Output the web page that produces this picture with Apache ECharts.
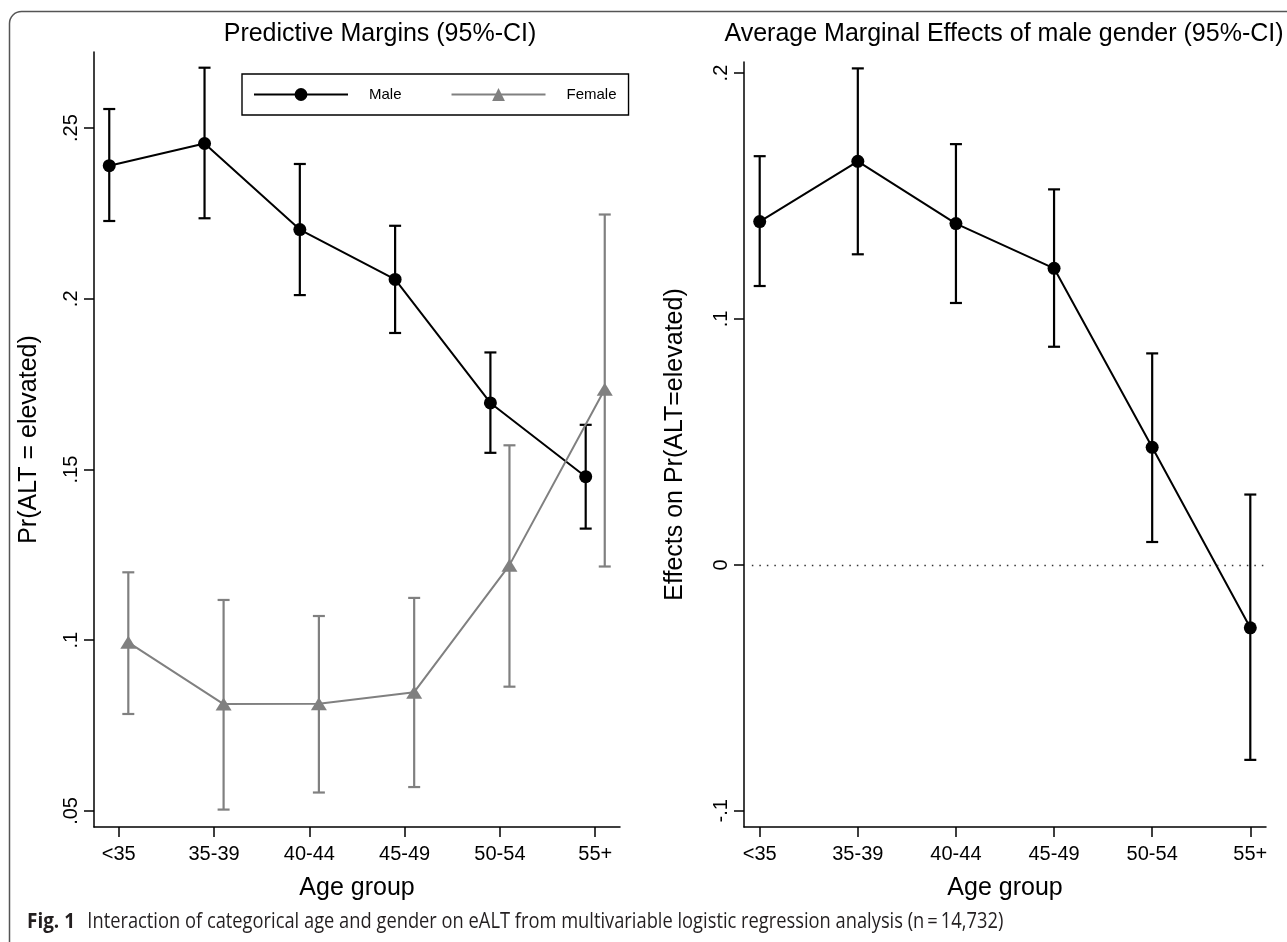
<!DOCTYPE html>
<html>
<head>
<meta charset="utf-8">
<script src="https://cdn.jsdelivr.net/npm/echarts@6/dist/echarts.min.js"></script>
<style>html,body{margin:0;padding:0;background:#fff}#c{width:1287px;height:942px}</style>
</head>
<body>
<div id="c"></div>
<script>
// ---- data ----
const categories = ['<35', '35-39', '40-44', '45-49', '50-54', '55+'];
const catIndex = [0, 1, 2, 3, 4, 5];

const maleMargin = [0.2390, 0.2455, 0.2203, 0.2057, 0.1695, 0.1479];
const maleLower  = [0.2228, 0.2236, 0.2011, 0.1900, 0.1549, 0.1327];
const maleUpper  = [0.2556, 0.2677, 0.2395, 0.2214, 0.1843, 0.1631];

const femaleMargin = [0.0994, 0.0813, 0.0814, 0.0848, 0.1220, 0.1735];
const femaleLower  = [0.0784, 0.0504, 0.0554, 0.0570, 0.0864, 0.1216];
const femaleUpper  = [0.1199, 0.1118, 0.1071, 0.1124, 0.1571, 0.2247];

const ameValue = [0.1396, 0.1641, 0.1388, 0.1206, 0.0478, -0.0256];
const ameLower = [0.1134, 0.1263, 0.1065, 0.0887, 0.0093, -0.0793];
const ameUpper = [0.1662, 0.2019, 0.1711, 0.1527, 0.0860, 0.0286];

const leftTickValues = [0.05, 0.1, 0.15, 0.2, 0.25];
const leftTickLabels = ['.05', '.1', '.15', '.2', '.25'];
const rightTickValues = [-0.1, 0, 0.1, 0.2];
const rightTickLabels = ['-.1', '0', '.1', '.2'];

const leftTitle = 'Predictive Margins (95%-CI)';
const rightTitle = 'Average Marginal Effects of male gender (95%-CI)';
const leftYName = 'Pr(ALT = elevated)';
const rightYName = 'Effects on Pr(ALT=elevated)';
const xName = 'Age group';
const captionBold = 'Fig. 1';
const captionText = 'Interaction of categorical age and gender on eALT from multivariable logistic regression analysis (n\u2009=\u200914,732)';

// ---- styling ----
const FONT = '"Liberation Sans", Arial, sans-serif';
const CAPFONT = '"Open Sans", "Noto Sans", sans-serif';
const BLACK = '#000000';
const GRAY = '#808080';
const DODGE = 0.1;

function lookup(values, labels) {
  return function (v) {
    for (let i = 0; i < values.length; i++) {
      if (Math.abs(values[i] - v) < 1e-9) return labels[i];
    }
    return '';
  };
}

function xAxisDef(gridIndex, min, max) {
  return {
    type: 'value', gridIndex: gridIndex, min: min, max: max,
    splitLine: { show: false },
    axisLine: { show: true, onZero: false, lineStyle: { color: BLACK, width: 1.5 } },
    axisTick: { show: true, length: 10, customValues: catIndex, lineStyle: { color: BLACK, width: 1.5 } },
    axisLabel: {
      customValues: catIndex, margin: 17, color: BLACK, fontSize: 20, fontFamily: FONT,
      formatter: function (v) { return categories[Math.round(v)]; }
    },
    name: xName, nameLocation: 'middle', nameGap: 49,
    nameTextStyle: { color: BLACK, fontSize: 25, fontFamily: FONT }
  };
}

function yAxisDef(gridIndex, min, max, tv, tl, name, gap) {
  return {
    type: 'value', gridIndex: gridIndex, min: min, max: max,
    splitLine: { show: false },
    axisLine: { show: true, onZero: false, lineStyle: { color: BLACK, width: 1.5 } },
    axisTick: { show: true, length: 10, customValues: tv, lineStyle: { color: BLACK, width: 1.5 } },
    axisLabel: {
      customValues: tv, rotate: 90, margin: 13, color: BLACK, fontSize: 20, fontFamily: FONT,
      formatter: lookup(tv, tl)
    },
    name: name, nameLocation: 'middle', nameRotate: 90, nameGap: gap,
    nameTextStyle: { color: BLACK, fontSize: 25, fontFamily: FONT }
  };
}

function errorBars(xi, yi, offset, lower, upper, color) {
  return {
    type: 'custom', xAxisIndex: xi, yAxisIndex: yi, silent: true, z: 2,
    data: catIndex.map(function (i) { return [i + offset, lower[i], upper[i]]; }),
    encode: { x: 0, y: [1, 2] },
    renderItem: function (params, api) {
      const x = api.value(0);
      const lo = api.coord([x, api.value(1)]);
      const hi = api.coord([x, api.value(2)]);
      const hw = 6;
      const style = { stroke: color, lineWidth: 2.2, fill: null };
      return {
        type: 'group', children: [
          { type: 'line', shape: { x1: lo[0], y1: lo[1], x2: hi[0], y2: hi[1] }, style: style },
          { type: 'line', shape: { x1: lo[0] - hw, y1: lo[1], x2: lo[0] + hw, y2: lo[1] }, style: style },
          { type: 'line', shape: { x1: hi[0] - hw, y1: hi[1], x2: hi[0] + hw, y2: hi[1] }, style: style }
        ]
      };
    }
  };
}

function lineSeries(name, xi, yi, offset, values, color, symbol, size) {
  return {
    name: name, type: 'line', xAxisIndex: xi, yAxisIndex: yi, z: 3,
    data: catIndex.map(function (i) { return [i + offset, values[i]]; }),
    symbol: symbol, symbolSize: size, showSymbol: true,
    lineStyle: { color: color, width: 2 },
    itemStyle: { color: color, borderWidth: 0 },
    emphasis: { disabled: true }
  };
}

// caption fitting widths (measured on the reference)
function textWidth(text, font) {
  const ctx = document.createElement('canvas').getContext('2d');
  ctx.font = font;
  return ctx.measureText(text).width;
}
const capSize = 21;
const capScale = 916 / textWidth(captionText, capSize + 'px "Open Sans"');
const boldScale = 48 / textWidth(captionBold, 'bold ' + capSize + 'px "Open Sans"');

const chart = echarts.init(document.getElementById('c'), null, { renderer: 'canvas' });

const ameSeries = lineSeries('AME', 1, 1, 0, ameValue, BLACK, 'circle', 13);
ameSeries.markLine = {
  silent: true, symbol: 'none', label: { show: false },
  lineStyle: { color: '#333', width: 1.4, type: [1.5, 6] },
  data: [[{ coord: [-0.08, 0] }, { coord: [5.16, 0] }]]
};

chart.setOption({
  animation: false,
  backgroundColor: '#ffffff',
  title: [
    { text: leftTitle, left: 380, top: 22, padding: 0, textAlign: 'center',
      textStyle: { color: BLACK, fontSize: 25, fontWeight: 'normal', fontFamily: FONT } },
    { text: rightTitle, left: 1004, top: 22, padding: 0, textAlign: 'center',
      textStyle: { color: BLACK, fontSize: 25, fontWeight: 'normal', fontFamily: FONT } }
  ],
  legend: {
    data: ['Male', 'Female'],
    left: 242, top: 74,
    orient: 'horizontal',
    itemWidth: 94, itemHeight: 16, itemGap: 49,
    padding: [13, 12, 13, 11],
    borderColor: BLACK, borderWidth: 1.4,
    backgroundColor: '#ffffff',
    selectedMode: false,
    textStyle: { color: BLACK, fontSize: 15, fontFamily: FONT, padding: [0, 0, 0, 16] }
  },
  grid: [
    { left: 94, top: 52, width: 526, height: 775, containLabel: false },
    { left: 744, top: 62, width: 522, height: 765, containLabel: false }
  ],
  xAxis: [xAxisDef(0, -0.26, 5.26), xAxisDef(1, -0.16, 5.16)],
  yAxis: [
    yAxisDef(0, 0.0453, 0.2723, leftTickValues, leftTickLabels, leftYName, 52),
    yAxisDef(1, -0.1066, 0.2045, rightTickValues, rightTickLabels, rightYName, 56)
  ],
  series: [
    errorBars(0, 0, -DODGE, maleLower, maleUpper, BLACK),
    errorBars(0, 0, DODGE, femaleLower, femaleUpper, GRAY),
    lineSeries('Male', 0, 0, -DODGE, maleMargin, BLACK, 'circle', 13),
    lineSeries('Female', 0, 0, DODGE, femaleMargin, GRAY, 'triangle', [16, 13]),
    errorBars(1, 1, 0, ameLower, ameUpper, BLACK),
    ameSeries
  ],
  graphic: [
    { type: 'rect', silent: true, z: -1,
      shape: { x: 9.5, y: 11.5, width: 1400, height: 1000, r: 12 },
      style: { fill: null, stroke: '#555555', lineWidth: 1.5 } },
    { type: 'text', x: 27, y: 922.5, scaleX: boldScale, silent: true,
      style: { text: captionBold, fontFamily: CAPFONT, fontWeight: 'bold', fontSize: capSize,
               fill: '#231f20', verticalAlign: 'middle', align: 'left' } },
    { type: 'text', x: 87.3, y: 922.5, scaleX: capScale, silent: true,
      style: { text: captionText, fontFamily: CAPFONT, fontSize: capSize,
               fill: '#231f20', verticalAlign: 'middle', align: 'left' } }
  ]
});
</script>
</body>
</html>
